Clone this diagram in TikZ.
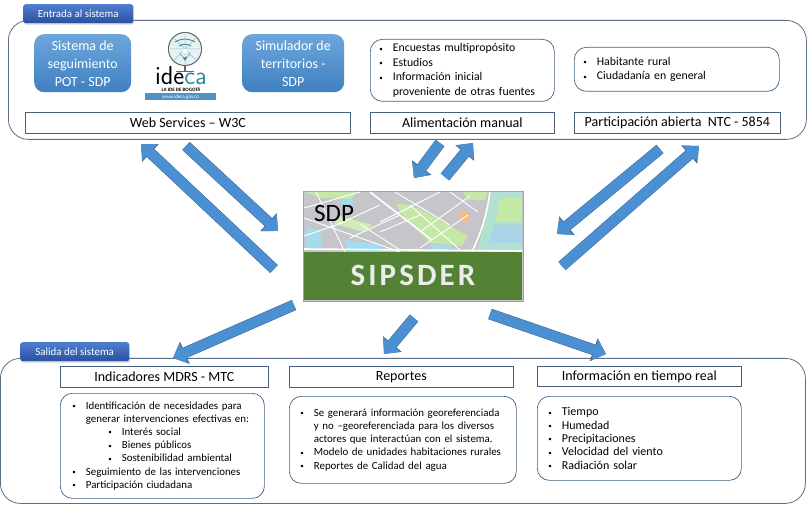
\documentclass[tikz,border=0pt]{standalone}
\usepackage{fontspec}
\setmainfont{Carlito}
\usetikzlibrary{arrows.meta,shadows}
\definecolor{panelline}{HTML}{5B6F84}
\definecolor{boxline}{HTML}{44617F}
\definecolor{arrowblue}{HTML}{4A90D2}
\definecolor{arrowline}{HTML}{41668C}
\definecolor{tabtop}{HTML}{4F7FD0}
\definecolor{tabbottom}{HTML}{2A4FA0}
\definecolor{boxtop}{HTML}{6DA6DC}
\definecolor{boxbottom}{HTML}{3F80C0}
\definecolor{sipgreen}{HTML}{548235}
\definecolor{sipedge}{HTML}{8DB36E}
\definecolor{mapgray}{HTML}{C6C5C9}
\definecolor{mapgreen}{HTML}{C4E8A6}
\definecolor{mapblue}{HTML}{A4DCEC}
\definecolor{mappale}{HTML}{A9D4EA}
\definecolor{ideateal}{HTML}{2F8F9C}
\definecolor{ideaband}{HTML}{4F93C4}
\newcommand{\bulw}{13.5pt}
\newcommand{\bul}{\makebox[\bulw][l]{\raisebox{0.6pt}{\fontsize{7}{7}\selectfont\textbullet}}}
\newcommand{\itm}[1]{\bul#1\\}
\newcommand{\subitm}[1]{\hspace*{36pt}\bul#1\\}
\tikzset{
    panel/.style={draw=panelline,line width=0.8pt,rounded corners=20pt,fill=white,anchor=north west,inner sep=0pt},
    band/.style={draw=boxline,line width=0.7pt,fill=white,anchor=north west,inner sep=0pt,font=\fontsize{14}{15}\selectfont},
    listbox/.style={draw=boxline,line width=0.7pt,rounded corners=12pt,fill=white,anchor=north west,align=left,inner ysep=0pt,font=\fontsize{10.9}{13.2}\selectfont},
    toplist/.style={listbox,font=\fontsize{11.8}{14.5}\selectfont},
    sourcebox/.style={rounded corners=10pt,top color=boxtop,bottom color=boxbottom,anchor=north west,inner sep=0pt,align=center,text=white,font=\fontsize{14}{18}\selectfont},
    tabbox/.style={rounded corners=2.5pt,top color=tabtop,bottom color=tabbottom,anchor=north west,inner sep=0pt,text=white,font=\fontsize{10.9}{12}\selectfont,drop shadow={shadow xshift=1pt,shadow yshift=-1.5pt,opacity=0.35}},
    fatarrow/.style={draw=arrowblue,line width=10pt,-{Triangle[length=12pt,width=21.5pt]},
        preaction={draw=arrowline,line width=11pt,-{Triangle[length=13pt,width=23.5pt]}}},
}
\begin{document}
\begin{tikzpicture}[x=1pt,y=-1pt]
        \useasboundingbox (0,0) rectangle (812,505);
        %% Input panel
        \node[panel,minimum width=798pt,minimum height=119pt] (entrada) at (8,20) {};
        \node[tabbox,minimum width=110pt,minimum height=19pt] (entradatab) at (23,4) {Entrada al sistema};
        \node[sourcebox,minimum width=97pt,minimum height=58pt] (seguimiento) at (34,34) {Sistema de\\seguimiento\\POT - SDP};
        \node[sourcebox,minimum width=102pt,minimum height=58pt] (simulador) at (242,34) {Simulador de\\territorios -\\SDP};
        \node[toplist,minimum width=184pt,minimum height=62pt,text width=166pt,inner xsep=9pt] (encuestas) at (370,39) {%
            \itm{Encuestas multipropósito}\itm{Estudios}\itm{Información inicial}\hspace*{\bulw}proveniente de otras fuentes};
        \node[toplist,minimum width=205pt,minimum height=44pt,text width=187pt,inner xsep=9pt] (habitante) at (574,47) {%
            \itm{Habitante rural}\bul Ciudadanía en general};
        \node[band,minimum width=325pt,minimum height=21pt] (webservices) at (25,112) {Web Services -- W3C};
        \node[band,minimum width=184pt,minimum height=21pt] (alimentacion) at (370,112) {Alimentación manual};
        \node[band,minimum width=206pt,minimum height=21pt] (participacion) at (574,112) {Participación abierta\ \ NTC - 5854};
        %% Ideca logo
        \draw[gray!80!black,line width=1.1pt] (185,49) circle (16.5);
        \fill[ideateal!12!white] (185,49) circle (15.5);
        \draw[ideateal!50!white,line width=0.5pt] (170,49) -- (200,49) (185,34) -- (185,65) (174,38) -- (196,60) (196,38) -- (174,60);
        \draw[ideateal!70!gray,line width=0.9pt] (175,42) to[bend left=30] (195,42) (179,46) to[bend left=30] (191,46);
        \fill[ideateal!70!gray] (185,61) -- (179.5,52) arc (180:0:5.5) -- cycle;
        \fill[white] (185,51) circle (2.4);
        \draw[gray!80!black,line width=1.4pt] (185,65.5) -- (185,72);
        \draw[gray!80!black,line width=1pt] (176,72) -- (194,72);
        \node[inner sep=0pt,anchor=base,font=\fontsize{26}{26}\selectfont\sffamily] (idecaword) at (181,85) {ide\textcolor{ideateal}{ca}};
        \node[inner sep=0pt,anchor=north,font=\fontsize{5}{5}\selectfont\bfseries] (idecaide) at (181,87) {LA IDE DE BOGOTÁ};
        \node[fill=ideaband,text=white,inner sep=0pt,anchor=north west,minimum width=71pt,minimum height=7pt,font=\fontsize{5}{5}\selectfont] (idecaweb) at (145,93) {www.ideca.gov.co};
        %% Output panel
        \node[panel,minimum width=805pt,minimum height=145pt] (salida) at (0,358) {};
        \node[tabbox,minimum width=109pt,minimum height=19pt] (salidatab) at (20,342) {Salida del sistema};
        \node[band,minimum width=208pt,minimum height=21pt] (indicadores) at (60,366) {Indicadores MDRS - MTC};
        \node[band,minimum width=224pt,minimum height=21pt] (reportes) at (289,366) {Reportes};
        \node[band,minimum width=204pt,minimum height=20pt] (tiemporeal) at (537,366) {Información en tiempo real};
        \node[listbox,minimum width=204pt,minimum height=105pt,text width=180pt,inner xsep=12pt] (necesidades) at (60,393) {%
            \itm{Identificación de necesidades para}\hspace*{\bulw}generar intervenciones efectivas en:\\
            \subitm{Interés social}\subitm{Bienes públicos}\subitm{Sostenibilidad ambiental}
            \itm{Seguimiento de las intervenciones}\bul Participación ciudadana};
        \node[listbox,minimum width=224pt,minimum height=87pt,text width=205pt,inner xsep=11pt] (georef) at (289,396) {%
            \itm{Se generará información georeferenciada}\hspace*{\bulw}y no --georeferenciada para los diversos\\
            \hspace*{\bulw}actores que interactúan con el sistema.\\
            \itm{Modelo de unidades habitaciones rurales}\bul Reportes de Calidad del agua};
        \node[listbox,minimum width=204pt,minimum height=84pt,text width=182pt,inner xsep=11pt,font=\fontsize{12}{13.3}\selectfont] (clima) at (537,396) {%
            \itm{Tiempo}\itm{Humedad}\itm{Precipitaciones}\itm{Velocidad del viento}\bul Radiación solar};
        %% Central map
        \node[draw=sipedge,line width=1.4pt,fill=mapgray,anchor=north west,inner sep=0pt,minimum width=220pt,minimum height=110pt] (sipsder) at (303,191) {};
        \begin{scope}
            \clip (304,192) rectangle (522,252);
            \fill[mapgreen] (304,192) -- (356,192) -- (352,199) -- (322,198) -- cycle;
            \fill[mapgreen] (400,212) -- (418,208) -- (468,236) -- (462,246) -- (430,243) -- cycle;
            \fill[mapgreen] (396,204) -- (412,205) -- (416,213) -- (402,214) -- cycle;
            \fill[mapgreen] (463,192) -- (487,192) -- (485,200) -- (468,200) -- cycle;
            \fill[mapgreen!80!white] (340,216) -- (372,225) -- (364,232) -- (334,224) -- cycle;
            \fill[mapblue] (340,199) -- (353,199) -- (353,207) -- (342,207) -- cycle;
            \fill[mapblue] (306,228) -- (320,230) -- (322,248) -- (306,248) -- cycle;
            \fill[mapblue] (345,240) -- (380,244) -- (382,251) -- (348,251) -- cycle;
            \fill[mapblue] (430,245) -- (450,245) -- (455,251) -- (430,251) -- cycle;
            \fill[mapblue!60!mapgreen] (492,192) -- (522,192) -- (522,252) -- (477,252) -- cycle;
            \fill[mapgreen] (500,198) -- (522,198) -- (522,222) -- (495,222) -- cycle;
            \fill[mappale] (494,225) -- (522,225) -- (522,243) -- (489,243) -- cycle;
            \fill[orange!55!white] (460,213) -- (467,211) -- (469,220) -- (461,222) -- cycle;
            \draw[white,line width=1.6pt] (370,192) -- (432,240) (304,249) -- (522,251) (490,192) to[bend left=8] (472,252);
            \draw[white,line width=0.9pt] (304,218) -- (400,252) (440,192) -- (380,222) (316,192) -- (345,252)
                (410,205) -- (460,250) (470,196) -- (420,232) (304,208) -- (360,192) (330,228) -- (380,205)
                (350,238) -- (400,215) (395,192) -- (450,225) (420,248) -- (468,215) (304,236) -- (345,222)
                (450,192) -- (478,212) (360,224) -- (400,250) (380,232) -- (420,215);
        \end{scope}
        \node[inner sep=0pt,anchor=north west,font=\fontsize{25}{25}\selectfont] (sdplabel) at (314,205) {SDP};
        \fill[sipgreen] (304,252) rectangle (522,300.5);
        \node[text=white!85!gray,inner sep=0pt,font=\fontsize{31}{31}\selectfont\bfseries\addfontfeatures{LetterSpace=10}] (sipsderlabel) at (413,275) {SIPSDER};
        %% Arrows
        \coordinate (webin) at (141,144);
        \coordinate (webintail) at (274,269);
        \coordinate (webouttail) at (186,146);
        \coordinate (webout) at (278,231);
        \coordinate (manualout) at (414,178);
        \coordinate (manualouttail) at (440,143);
        \coordinate (manualintail) at (445,177);
        \coordinate (manualin) at (473,143);
        \coordinate (abiertaouttail) at (660,149);
        \coordinate (abiertaout) at (557,234);
        \coordinate (abiertaintail) at (562,266);
        \coordinate (abiertain) at (699,146);
        \coordinate (mdrstail) at (294,305);
        \coordinate (mdrs) at (173,358);
        \coordinate (reportestail) at (414,318);
        \coordinate (reportesin) at (384,354);
        \coordinate (realtail) at (490,314);
        \coordinate (realin) at (606,354);
        \draw[fatarrow] (webintail) -- (webin);
        \draw[fatarrow] (webouttail) -- (webout);
        \draw[fatarrow] (manualouttail) -- (manualout);
        \draw[fatarrow] (manualintail) -- (manualin);
        \draw[fatarrow] (abiertaouttail) -- (abiertaout);
        \draw[fatarrow] (abiertaintail) -- (abiertain);
        \draw[fatarrow] (mdrstail) -- (mdrs);
        \draw[fatarrow] (reportestail) -- (reportesin);
        \draw[fatarrow] (realtail) -- (realin);
    \end{tikzpicture}
\end{document}
